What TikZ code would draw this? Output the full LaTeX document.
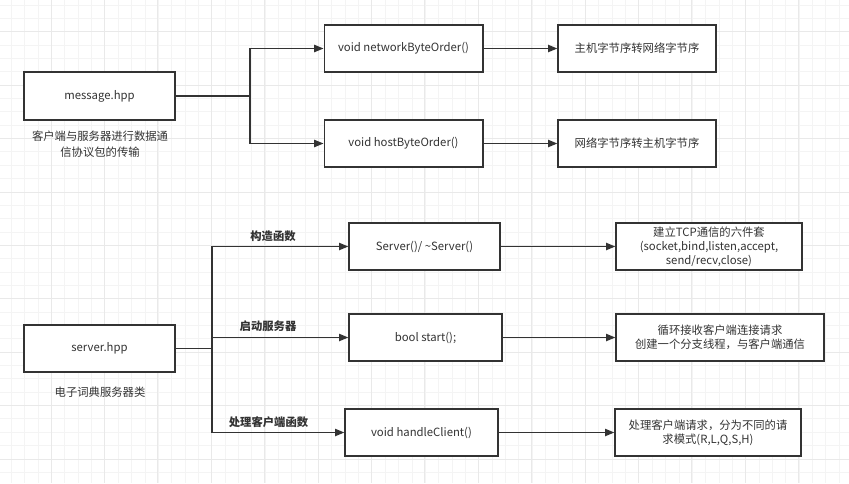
\documentclass[tikz,border=0pt]{standalone}
\usepackage{fontspec}
\setmainfont{Noto Sans CJK SC}
\usetikzlibrary{arrows.meta}
\definecolor{gridminor}{HTML}{F4F4F4}
\definecolor{gridmajor}{HTML}{E9E9E9}
\definecolor{ink}{HTML}{333333}

\begin{document}
\begin{tikzpicture}[x=0.75pt,y=-0.75pt,
    every node/.style={font=\fontsize{8.5}{10.5}\selectfont,text=ink},
    box/.style={draw=ink,line width=1pt,fill=white,minimum width=119pt,minimum height=35.25pt,inner sep=2pt,align=center},
    caption/.style={align=center,font=\fontsize{8.5}{12}\selectfont},
    tag/.style={font=\fontsize{8.5}{10.5}\selectfont\bfseries},
    arrow/.style={draw=ink,line width=1pt,-{Triangle[length=7pt,width=5.5pt]}},
    link/.style={draw=ink,line width=1pt}]
    \useasboundingbox[fill=white] (0,0) rectangle (849,483);
    % background grid
    \foreach \k in {0,...,62} \draw[gridminor,line width=0.75pt] ({11.5+13.35*\k},0) -- ({11.5+13.35*\k},483);
    \foreach \k in {0,...,35} \draw[gridminor,line width=0.75pt] (0,{5.1+13.35*\k}) -- (849,{5.1+13.35*\k});
    \foreach \k in {1,...,15} \draw[gridmajor,line width=0.75pt] ({-2.4+53.4*\k},0) -- ({-2.4+53.4*\k},483);
    \foreach \k in {0,...,8} \draw[gridmajor,line width=0.75pt] (0,{31.8+53.4*\k}) -- (849,{31.8+53.4*\k});

    % message.hpp
    \node[box,minimum width=113.25pt,minimum height=36pt] (msg) at (99.5,96) {message.hpp};
    \node[caption] (msgcap) at (100,144) {客户端与服务器进行数据通\\信协议包的传输};
    \node[box] (net) at (403.5,48.5) {void networkByteOrder()};
    \node[box] (host) at (403.5,143.5) {void hostByteOrder()};
    \node[box,minimum width=118.5pt] (hton) at (637,48.5) {主机字节序转网络字节序};
    \node[box,minimum width=118.5pt] (ntoh) at (637,143.5) {网络字节序转主机字节序};
    \coordinate (msgfork) at (250,96);
    \draw[link] (msg.east) -- (msgfork);
    \draw[arrow] (msgfork) |- (net.west);
    \draw[arrow] (msgfork) |- (host.west);
    \draw[arrow] (net) -- (hton);
    \draw[arrow] (host) -- (ntoh);

    % server.hpp
    \node[box,minimum width=113.25pt] (srv) at (99.5,348.5) {server.hpp};
    \node[caption] (srvcap) at (100,392) {电子词典服务器类};
    \node[box,minimum width=113.25pt] (ctor) at (424.5,246.5) {Server()/ \textasciitilde Server()};
    \node[box,minimum width=114.75pt] (start) at (425.5,337.5) {bool start();};
    \node[box,minimum width=114.75pt] (handle) at (421.5,432.5) {void handleClient()};
    \node[box,minimum width=139.5pt] (tcp) at (709,246.5) {建立TCP通信的六件套\\(socket,bind,listen,accept,\\send/recv,close)};
    \node[box,minimum width=156pt] (accept) at (720,337.5) {循环接收客户端连接请求\\创建一个分支线程，与客户端通信};
    \node[box,minimum width=139.5pt] (req) at (708,432.5) {处理客户端请求，分为不同的请\\求模式(R,L,Q,S,H)};
    \coordinate (srvfork) at (212,348.5);
    \draw[link] (srv.east) -- (srvfork);
    \draw[arrow] (srvfork) |- (ctor.west);
    \draw[arrow] (srvfork) |- (start.west);
    \draw[arrow] (srvfork) |- (handle.west);
    \node[tag] (ctortag) at (273,236) {构造函数};
    \node[tag] (starttag) at (268,326) {启动服务器};
    \node[tag] (handletag) at (268.5,422) {处理客户端函数};
    \draw[arrow] (ctor) -- (tcp);
    \draw[arrow] (start) -- (accept);
    \draw[arrow] (handle) -- (req);
\end{tikzpicture}
\end{document}
